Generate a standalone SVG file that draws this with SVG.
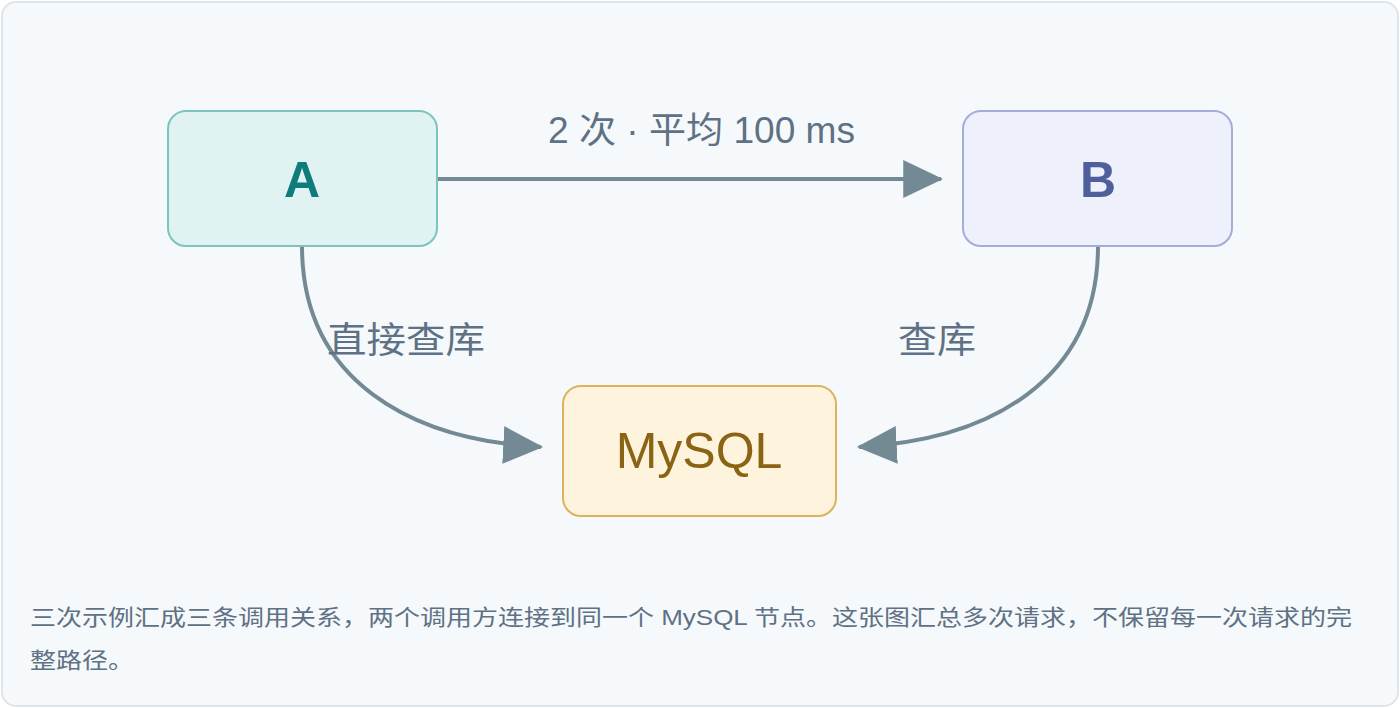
<svg xmlns="http://www.w3.org/2000/svg" width="1400" height="708" viewBox="0 0 1400 708">
<style>
.lbl{font-family:"Liberation Sans","Noto Sans CJK SC",sans-serif;fill:#5f7184;font-size:36px}
.ft{font-family:"Liberation Sans","Noto Sans CJK SC",sans-serif;fill:#5f7184;font-size:22px}
.edge{fill:none;stroke:#738a95;stroke-width:4}
.nt{font-family:"Liberation Sans",sans-serif;text-anchor:middle;font-size:50px}
</style>
<defs>
<marker id="ah" markerUnits="userSpaceOnUse" markerWidth="40" markerHeight="40" viewBox="0 0 36 34" refX="34" refY="17" orient="auto">
<path d="M0 0L36 17L0 34Z" fill="#738a95"/>
</marker>
</defs>
<rect x="2" y="2" width="1396" height="704" rx="14" fill="#f5f9fb" stroke="#dde5ea" stroke-width="2"/>
<g id="edges">
<path class="edge" d="M437 179H941" marker-end="url(#ah)"/>
<path class="edge" d="M302 246C302 380 410 440 541 447" marker-end="url(#ah)"/>
<path class="edge" d="M1098 246C1098 380 990 440 859 447" marker-end="url(#ah)"/>
<text class="lbl" x="548" y="143" textLength="307" lengthAdjust="spacingAndGlyphs">2 次 · 平均 100 ms</text>
<text class="lbl" x="327" y="353" textLength="158" lengthAdjust="spacingAndGlyphs">直接查库</text>
<text class="lbl" x="898" y="353" textLength="78" lengthAdjust="spacingAndGlyphs">查库</text>
</g>
<g id="A"><rect x="168" y="111" width="269" height="135" rx="18" fill="#e0f3f2" stroke="#7cc4bd" stroke-width="2"/><text class="nt" x="302" y="197" font-weight="bold" fill="#0e7c7b">A</text></g>
<g id="B"><rect x="963" y="111" width="269" height="135" rx="18" fill="#eef0fb" stroke="#a5acd9" stroke-width="2"/><text class="nt" x="1098" y="197" font-weight="bold" fill="#4f5f9b">B</text></g>
<g id="MySQL"><rect x="563" y="386" width="273" height="130" rx="18" fill="#fef3dd" stroke="#dcb35c" stroke-width="2"/><text class="nt" x="699" y="468" font-size="46" fill="#8a6414">MySQL</text></g>
<text class="ft" x="30" y="625" textLength="1322" lengthAdjust="spacingAndGlyphs">三次示例汇成三条调用关系，两个调用方连接到同一个 MySQL 节点。这张图汇总多次请求，不保留每一次请求的完</text>
<text class="ft" x="30" y="668" textLength="104" lengthAdjust="spacingAndGlyphs">整路径。</text>
</svg>
